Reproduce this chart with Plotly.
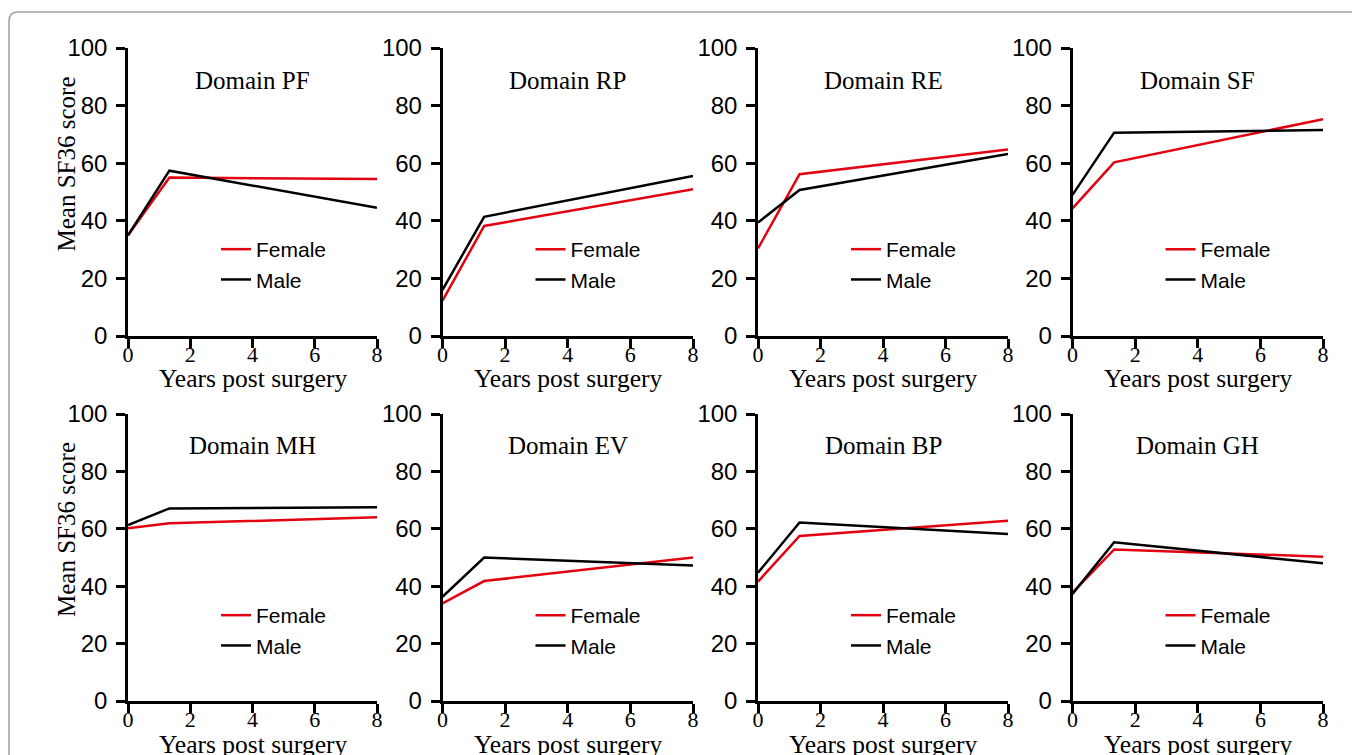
import plotly.graph_objects as go

W, H = 1360, 755
OFF = 8  # page body margin
FW, FH = W - OFF, H - OFF

# ---- data ----
years = [0, 1.33, 8]
domains = ["PF", "RP", "RE", "SF", "MH", "EV", "BP", "GH"]
female_PF = [35.0, 55.0, 54.5]
male_PF = [35.0, 57.4, 44.5]
female_RP = [12.3, 38.2, 51.0]
male_RP = [16.0, 41.4, 55.6]
female_RE = [30.4, 56.2, 64.8]
male_RE = [39.4, 50.7, 63.2]
female_SF = [44.3, 60.3, 75.3]
male_SF = [49.0, 70.6, 71.5]
female_MH = [60.2, 61.9, 64.0]
male_MH = [61.3, 67.1, 67.5]
female_EV = [34.0, 41.8, 50.0]
male_EV = [36.3, 50.0, 47.2]
female_BP = [41.6, 57.5, 62.8]
male_BP = [44.7, 62.2, 58.2]
female_GH = [37.8, 52.8, 50.3]
male_GH = [37.3, 55.3, 48.0]
xticks = [0, 2, 4, 6, 8]
yticks = [0, 20, 40, 60, 80, 100]

female = [female_PF, female_RP, female_RE, female_SF, female_MH, female_EV, female_BP, female_GH]
male = [male_PF, male_RP, male_RE, male_SF, male_MH, male_EV, male_BP, male_GH]

RED = "#e3000f"
SERIF = "Liberation Serif"
SANS = "Liberation Sans"


def px(x):
    return (x - OFF) / FW


def py(y):
    return 1 - (y - OFF) / FH


col_x = [(128, 377), (442.5, 693), (758, 1008), (1072.5, 1323)]
row_y = [(48, 336), (414, 701)]

fig = go.Figure()
annotations = []
layout = {}

for i, dom in enumerate(domains):
    r, c = divmod(i, 4)
    x0, x1 = col_x[c]
    y0, y1 = row_y[r]
    n = i + 1
    xa = "xaxis" if n == 1 else f"xaxis{n}"
    ya = "yaxis" if n == 1 else f"yaxis{n}"
    xr = "x" if n == 1 else f"x{n}"
    yr = "y" if n == 1 else f"y{n}"
    lg = "legend" if n == 1 else f"legend{n}"

    common = dict(showline=True, linecolor="black", linewidth=2.5, ticks="outside",
                  ticklen=9, tickwidth=2.5, tickcolor="black", showgrid=False,
                  zeroline=False, fixedrange=True)
    layout[xa] = dict(domain=[px(x0), px(x1)], range=[0, 8], tickvals=xticks,
                      tickfont=dict(family=SERIF, size=22, color="black"),
                      ticklabelstandoff=-12, anchor=yr, **common)
    layout[ya] = dict(domain=[py(y1), py(y0)], range=[0, 100], tickvals=yticks,
                      tickfont=dict(family=SANS, size=24, color="black"),
                      ticklabelstandoff=4, anchor=xr, **common)

    fig.add_trace(go.Scatter(x=years, y=female[i], mode="lines", name="Female",
                             line=dict(color=RED, width=2.5), xaxis=xr, yaxis=yr,
                             legend=lg))
    fig.add_trace(go.Scatter(x=years, y=male[i], mode="lines", name="Male",
                             line=dict(color="black", width=2.5), xaxis=xr, yaxis=yr,
                             legend=lg))

    layout[lg] = dict(x=px(x0 + 88), y=py(y0 + 216.5), xanchor="left", yanchor="middle",
                      bgcolor="rgba(0,0,0,0)", font=dict(family=SANS, size=21, color="black"),
                      tracegroupgap=0, itemwidth=30)

    # domain title
    annotations.append(dict(text=f"Domain {dom}", x=0.5, y=1 - 32 / 288,
                            xref=f"{xr} domain", yref=f"{yr} domain",
                            xanchor="center", yanchor="middle", showarrow=False,
                            font=dict(family=SERIF, size=25, color="black")))
    # x-axis title
    annotations.append(dict(text="Years post surgery", x=px((x0 + x1) / 2), y=py(y1 + 43),
                            xref="paper", yref="paper", xanchor="center", yanchor="middle",
                            showarrow=False, font=dict(family=SERIF, size=25.5, color="black")))
    if c == 0:
        annotations.append(dict(text="Mean SF36 score", x=px(66), y=py((y0 + y1) / 2 - 28.5),
                                xref="paper", yref="paper", xanchor="center", yanchor="middle",
                                textangle=-90, showarrow=False,
                                font=dict(family=SERIF, size=25, color="black")))

# rounded figure border (top and left edges)
rr = 9
border = (f"M {px(9)},{py(H + 20)} L {px(9)},{py(12 + rr)} "
          f"Q {px(9)},{py(12)} {px(9 + rr)},{py(12)} L {px(W + 20)},{py(12)}")

fig.update_layout(
    **layout,
    width=FW, height=FH,
    margin=dict(l=0, r=0, t=0, b=0, autoexpand=False),
    paper_bgcolor="white", plot_bgcolor="white",
    annotations=annotations,
    shapes=[dict(type="path", path=border, xref="paper", yref="paper",
                 line=dict(color="#a0a0a0", width=1.5), layer="below")],
    showlegend=True,
)

fig.write_html("out.html")
